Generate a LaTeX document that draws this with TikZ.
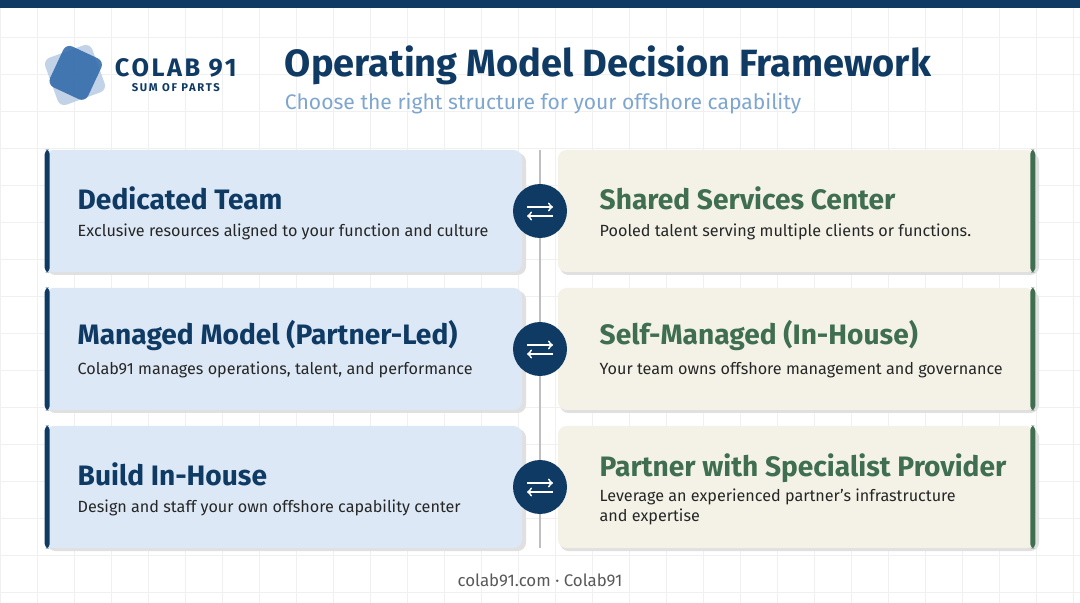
\documentclass[tikz,border=0pt]{standalone}
\usepackage{fontspec}
\setmainfont{Fira Sans}
\usetikzlibrary{positioning}
\definecolor{navy}{HTML}{0F3A63}
\definecolor{leafgreen}{HTML}{3F6E50}
\definecolor{bluecard}{HTML}{DCE8F5}
\definecolor{creamcard}{HTML}{F4F2E7}
\definecolor{subblue}{HTML}{7EA6CE}
\definecolor{logoblue}{HTML}{2B66A8}
\tikzset{
  card/.style={rounded corners=6pt, minimum width=477*0.025cm, minimum height=122*0.025cm, draw=none},
  lcard/.style={card, fill=bluecard},
  rcard/.style={card, fill=creamcard},
  head/.style={font=\bfseries\fontsize{20}{22}\selectfont, anchor=west},
  body/.style={font=\fontsize{11.5}{14}\selectfont, anchor=west, align=left, text=black!85},
  swap/.style={circle, fill=navy, minimum size=54*0.025cm, inner sep=0pt}
}
\begin{document}
\begin{tikzpicture}[x=0.025cm,y=-0.025cm]
 \useasboundingbox (0,0) rectangle (1080,603);
 \fill[white] (0,0) rectangle (1080,603);
 \draw[step=37*0.025cm,black!6,very thin](0,0) grid (1080,603);
 \fill[navy] (0,0) rectangle (1080,8);
 % logo
 \fill[logoblue!35, opacity=0.8, rounded corners=5pt, rotate around={20:(75,75)}] (50,50) rectangle (100,100);
 \fill[logoblue, opacity=0.85, rounded corners=5pt, rotate around={-25:(75,72)}] (55,50) rectangle (97,95);
 \node[font=\bfseries\fontsize{18}{20}\selectfont\addfontfeatures{LetterSpace=10}, text=navy, anchor=west] (brand) at (110,68) {COLAB 91};
 \node[font=\bfseries\fontsize{8}{9}\selectfont\addfontfeatures{LetterSpace=15}, text=navy, below=-3pt of brand] (tag) {SUM OF PARTS};
 \node[font=\bfseries\fontsize{27}{29}\selectfont, text=navy, anchor=west] (title) at (280,65) {Operating Model Decision Framework};
 \node[font=\fontsize{15}{17}\selectfont, text=subblue, anchor=west] (sub) at (280,104) {Choose the right structure for your offshore capability};
 % divider
 \draw[black!25, line width=0.8pt] (540,150) -- (540,548);
 % cards
 \foreach \i/\y in {1/211, 2/349, 3/487} {
   \fill[black!12, rounded corners=6pt] (47,\y-58) rectangle (526,\y+64);
   \node[lcard] (L\i) at (283.5,\y) {};
   \fill[navy, rounded corners=3pt] (L\i.north west) rectangle ([xshift=5*0.025cm]L\i.south west);
   \fill[black!12, rounded corners=6pt] (560,\y-58) rectangle (1039,\y+64);
   \node[rcard] (R\i) at (796.5,\y) {};
   \fill[leafgreen, rounded corners=3pt] ([xshift=-5*0.025cm]R\i.north east) rectangle (R\i.south east);
   \node[swap] (S\i) at (540,\y) {};
   \draw[white, line width=1.3pt, ->] ([xshift=-13*0.025cm,yshift=4*0.025cm]S\i.center) -- ([xshift=13*0.025cm,yshift=4*0.025cm]S\i.center);
   \draw[white, line width=1.3pt, <-] ([xshift=-13*0.025cm,yshift=-5*0.025cm]S\i.center) -- ([xshift=13*0.025cm,yshift=-5*0.025cm]S\i.center);
 }
 \foreach \i/\lt/\lb/\rt/\rb in {
   1/{Dedicated Team}/{Exclusive resources aligned to your function and culture}/{Shared Services Center}/{Pooled talent serving multiple clients or functions.},
   2/{Managed Model (Partner-Led)}/{Colab91 manages operations, talent, and performance}/{Self-Managed (In-House)}/{Your team owns offshore management and governance}} {
   \node[head, text=navy] at ([xshift=28*0.025cm,yshift=13*0.025cm]L\i.west) {\lt};
   \node[body] at ([xshift=28*0.025cm,yshift=-21*0.025cm]L\i.west) {\lb};
   \node[head, text=leafgreen] at ([xshift=37*0.025cm,yshift=13*0.025cm]R\i.west) {\rt};
   \node[body] at ([xshift=37*0.025cm,yshift=-21*0.025cm]R\i.west) {\rb};
 }
 \node[head, text=navy] at ([xshift=28*0.025cm,yshift=13*0.025cm]L3.west) {Build In-House};
 \node[body] at ([xshift=28*0.025cm,yshift=-21*0.025cm]L3.west) {Design and staff your own offshore capability center};
 \node[head, text=leafgreen] at ([xshift=37*0.025cm,yshift=19*0.025cm]R3.west) {Partner with Specialist Provider};
 \node[body, font=\fontsize{11.5}{14.5}\selectfont] at ([xshift=37*0.025cm,yshift=-20*0.025cm]R3.west) {Leverage an experienced partner's infrastructure\\and expertise};
 \node[font=\fontsize{12}{14}\selectfont, text=black!65] (foot) at (540,580) {colab91.com · Colab91};
\end{tikzpicture}
\end{document}
